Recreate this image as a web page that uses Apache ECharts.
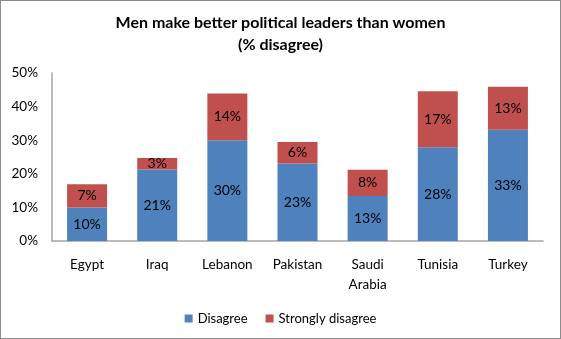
<!DOCTYPE html>
<html><head><meta charset="utf-8">
<script src="https://cdn.jsdelivr.net/npm/echarts@6/dist/echarts.min.js"></script>
<style>html,body{margin:0;padding:0;background:#fff}#c{width:559px;height:337px;border:1px solid #8c8c8c}</style>
</head><body><div id="c"></div>
<script>
const categories = ['Egypt','Iraq','Lebanon','Pakistan','Saudi\nArabia','Tunisia','Turkey'];
const disagree = [10, 21.3, 30, 23.1, 13.4, 27.9, 33.1];
const stronglyDisagree = [6.9, 3.4, 13.9, 6.4, 7.8, 16.7, 12.8];
const yTicks = [0, 10, 20, 30, 40, 50];
const FONT = 'Lato';
const chart = echarts.init(document.getElementById('c'), null, {renderer:'canvas'});
const lbl = {show:true, position:'inside', color:'#000', fontFamily:FONT, fontSize:14, formatter:p=>Math.round(p.value)+'%'};
chart.setOption({
  animation:false,
  textStyle:{fontFamily:FONT},
  title:{text:'Men make better political leaders than women\n(% disagree)', left:'center', top:6,
    textStyle:{fontFamily:FONT, fontWeight:'bold', fontSize:16, lineHeight:22, color:'#000'}},
  grid:{left:51, right:17, top:72, bottom:97},
  legend:{bottom:8, left:'center', itemWidth:8, itemHeight:8, itemGap:18, icon:'rect',
    textStyle:{fontFamily:FONT, fontSize:13, color:'#000'},
    data:['Disagree','Strongly disagree']},
  xAxis:{type:'category', data:categories,
    axisLine:{lineStyle:{color:'#a6a6a6', width:1.5}}, axisTick:{show:false},
    axisLabel:{color:'#000', fontSize:13.5, fontFamily:FONT, margin:14, lineHeight:20, interval:0}},
  yAxis:{type:'value', min:yTicks[0], max:yTicks[yTicks.length-1], interval:10,
    axisLine:{show:true, lineStyle:{color:'#a6a6a6', width:1.5}}, axisTick:{show:false},
    splitLine:{show:false},
    axisLabel:{color:'#000', fontSize:13.5, fontFamily:FONT, margin:14, formatter:v=>v+'%'}},
  series:[
    {name:'Disagree', type:'bar', stack:'a', data:disagree, barWidth:40,
      itemStyle:{color:'#4F81BD'}, label:lbl},
    {name:'Strongly disagree', type:'bar', stack:'a', data:stronglyDisagree, barWidth:40,
      itemStyle:{color:'#C0504D'}, label:lbl}
  ]
});
</script></body></html>
